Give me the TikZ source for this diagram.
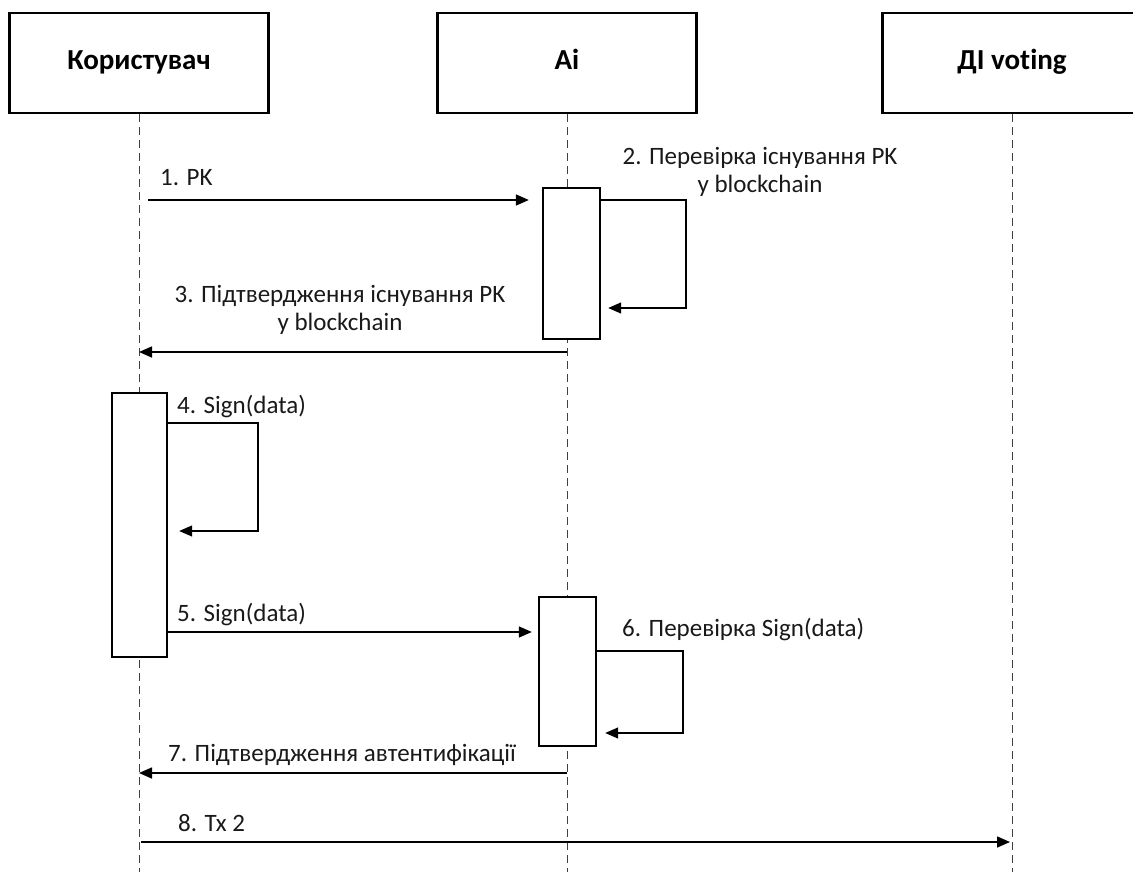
\documentclass[tikz,border=0pt]{standalone}
\usepackage{fontspec}
\setmainfont[Ligatures=NoCommon]{Carlito}
\usetikzlibrary{arrows.meta,calc}
\begin{document}
\begin{tikzpicture}[x=1pt,y=-1pt,
  head/.style={draw,line width=2.6pt,minimum width=259pt,minimum height=100pt,
    inner sep=0pt,text height=20pt,text depth=6pt,
    font=\fontsize{29}{34}\selectfont\bfseries},
  lifeline/.style={line width=0.8pt,dash pattern=on 8pt off 5pt,black!75},
  act/.style={draw,line width=2.4pt,fill=white,inner sep=0pt},
  msg/.style={line width=1.6pt,-{Triangle[length=13pt,width=11pt]}},
  selfmsg/.style={line width=1.3pt,-{Triangle[length=13pt,width=11pt]}},
  lbl/.style={inner sep=0pt,font=\fontsize{25}{28}\selectfont,text=black!90},
]
\useasboundingbox (0,0) rectangle (1133,872);

% participants
\node[head] (u) at (139,63) {Користувач};
\node[head] (a) at (567,63) {Ai};
\node[head] (d) at (1012,63) {ДІ voting};

% lifelines
\coordinate (uend) at (139,872);
\coordinate (aend) at (567,872);
\coordinate (dend) at (1012,872);
\draw[lifeline] (u.south) -- (uend);
\draw[lifeline] (a.south) -- (aend);
\draw[lifeline] (d.south) -- (dend);

% activation bars
\node[act,minimum width=57pt,minimum height=151pt] (act1) at (571.5,263.5) {};
\node[act,minimum width=55pt,minimum height=264pt] (act2) at (139.5,525) {};
\node[act,minimum width=57pt,minimum height=149pt] (act3) at (567.5,671.5) {};

% 1. PK
\coordinate (m1) at (148,200);
\draw[msg] (m1) -- ([xshift=-13pt]act1.west |- m1);
\node[lbl,anchor=west] (l1) at (160,178) {1. PK};

% 2. self check
\draw[selfmsg] (act1.east |- 0,200) -| (686,308) -- ([xshift=7pt]act1.east |- 0,308);
\node[lbl,align=center] (l2) at (760,172) {2. Перевірка існування PK\\у blockchain};

% 3. confirmation
\draw[msg] (a.south |- 0,352) -- (u.south |- 0,352);
\node[lbl,align=center] (l3) at (340,310) {3. Підтвердження існування PK\\у blockchain};

% 4. Sign(data) self
\draw[selfmsg] (act2.east |- 0,423) -| (258,531) -- ([xshift=11pt]act2.east |- 0,531);
\node[lbl,anchor=west] (l4) at (177,407) {4. Sign(data)};

% 5. Sign(data) to Ai
\draw[msg] (act2.east |- 0,632) -- ([xshift=-6pt]act3.west |- 0,632);
\node[lbl,anchor=west] (l5) at (177,615) {5. Sign(data)};

% 6. signature check
\draw[selfmsg] (act3.east |- 0,651) -| (683,733) -- ([xshift=8pt]act3.east |- 0,733);
\node[lbl,anchor=west] (l6) at (622,630) {6. Перевірка Sign(data)};

% 7. authentication confirmed
\draw[msg] (a.south |- 0,773) -- (u.south |- 0,773);
\node[lbl,anchor=west] (l7) at (168,755) {7. Підтвердження автентифікації};

% 8. Tx 2
\draw[msg] ([xshift=2pt]u.south |- 0,842) -- ([xshift=-2pt]d.south |- 0,842);
\node[lbl,anchor=west] (l8) at (178,823) {8. Tx 2};
\end{tikzpicture}
\end{document}
